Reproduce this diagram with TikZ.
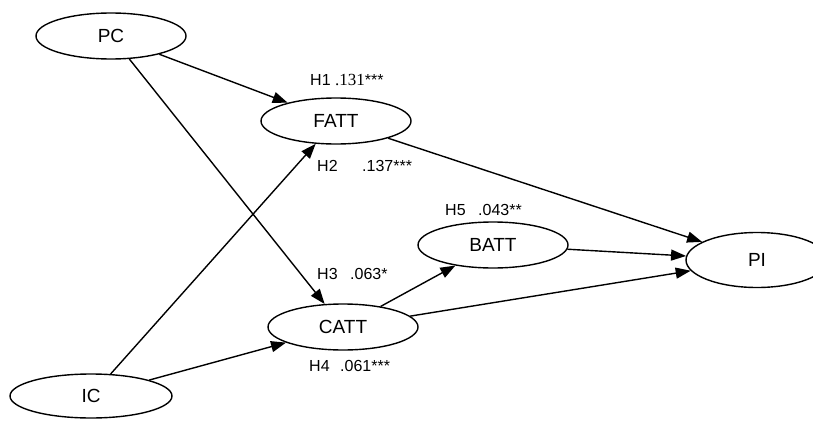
\documentclass[tikz,border=0pt]{standalone}
\usepackage{fontspec}
\setmainfont{Liberation Sans}
\newfontfamily\numserif{Liberation Serif}
\usetikzlibrary{shapes.geometric,arrows.meta}

\begin{document}
\begin{tikzpicture}[x=1pt,y=-1pt,
  construct/.style={draw,ellipse,line width=1.4pt,minimum width=150pt,minimum height=46pt,
    inner sep=0pt,font=\fontsize{19}{19}\selectfont},
  path coef/.style={anchor=west,inner sep=0pt,font=\fontsize{16}{16}\selectfont},
  arr/.style={line width=1.4pt,-{Triangle[length=15pt,width=11pt]}}]
  \useasboundingbox (0,0) rectangle (813,420);

  % latent constructs
  \node[construct] (pc)   at (111,36)  {PC};
  \node[construct] (fatt) at (336,121) {FATT};
  \node[construct] (batt) at (493,245) {BATT};
  \node[construct] (catt) at (343,327) {CATT};
  \node[construct,minimum width=162pt,minimum height=44pt] (ic) at (91,396) {IC};
  \node[construct,minimum width=142pt,minimum height=55pt] (pi) at (757,260) {PI};

  % structural paths
  \draw[arr] (pc) -- (fatt);
  \draw[arr] (pc) -- (catt);
  \draw[arr] (ic) -- (fatt);
  \draw[arr] (ic) -- (catt);
  \draw[arr] (fatt) -- (pi);
  \draw[arr] (catt) -- (batt);
  \draw[arr] (catt) -- (pi);
  \draw[arr] (batt) -- (pi);

  % hypothesis labels with path coefficients
  \node[path coef] (h1) at (310,80)  {H1 {\numserif\fontsize{17}{17}\selectfont .131}***};
  \node[path coef] (h2) at (317,166) {\makebox[45pt][l]{H2}.137***};
  \node[path coef] (h3) at (317,274) {\makebox[33pt][l]{H3}.063*};
  \node[path coef] (h4) at (309,366) {\makebox[31pt][l]{H4}.061***};
  \node[path coef] (h5) at (445,210) {\makebox[33pt][l]{H5}.043**};
\end{tikzpicture}
\end{document}
